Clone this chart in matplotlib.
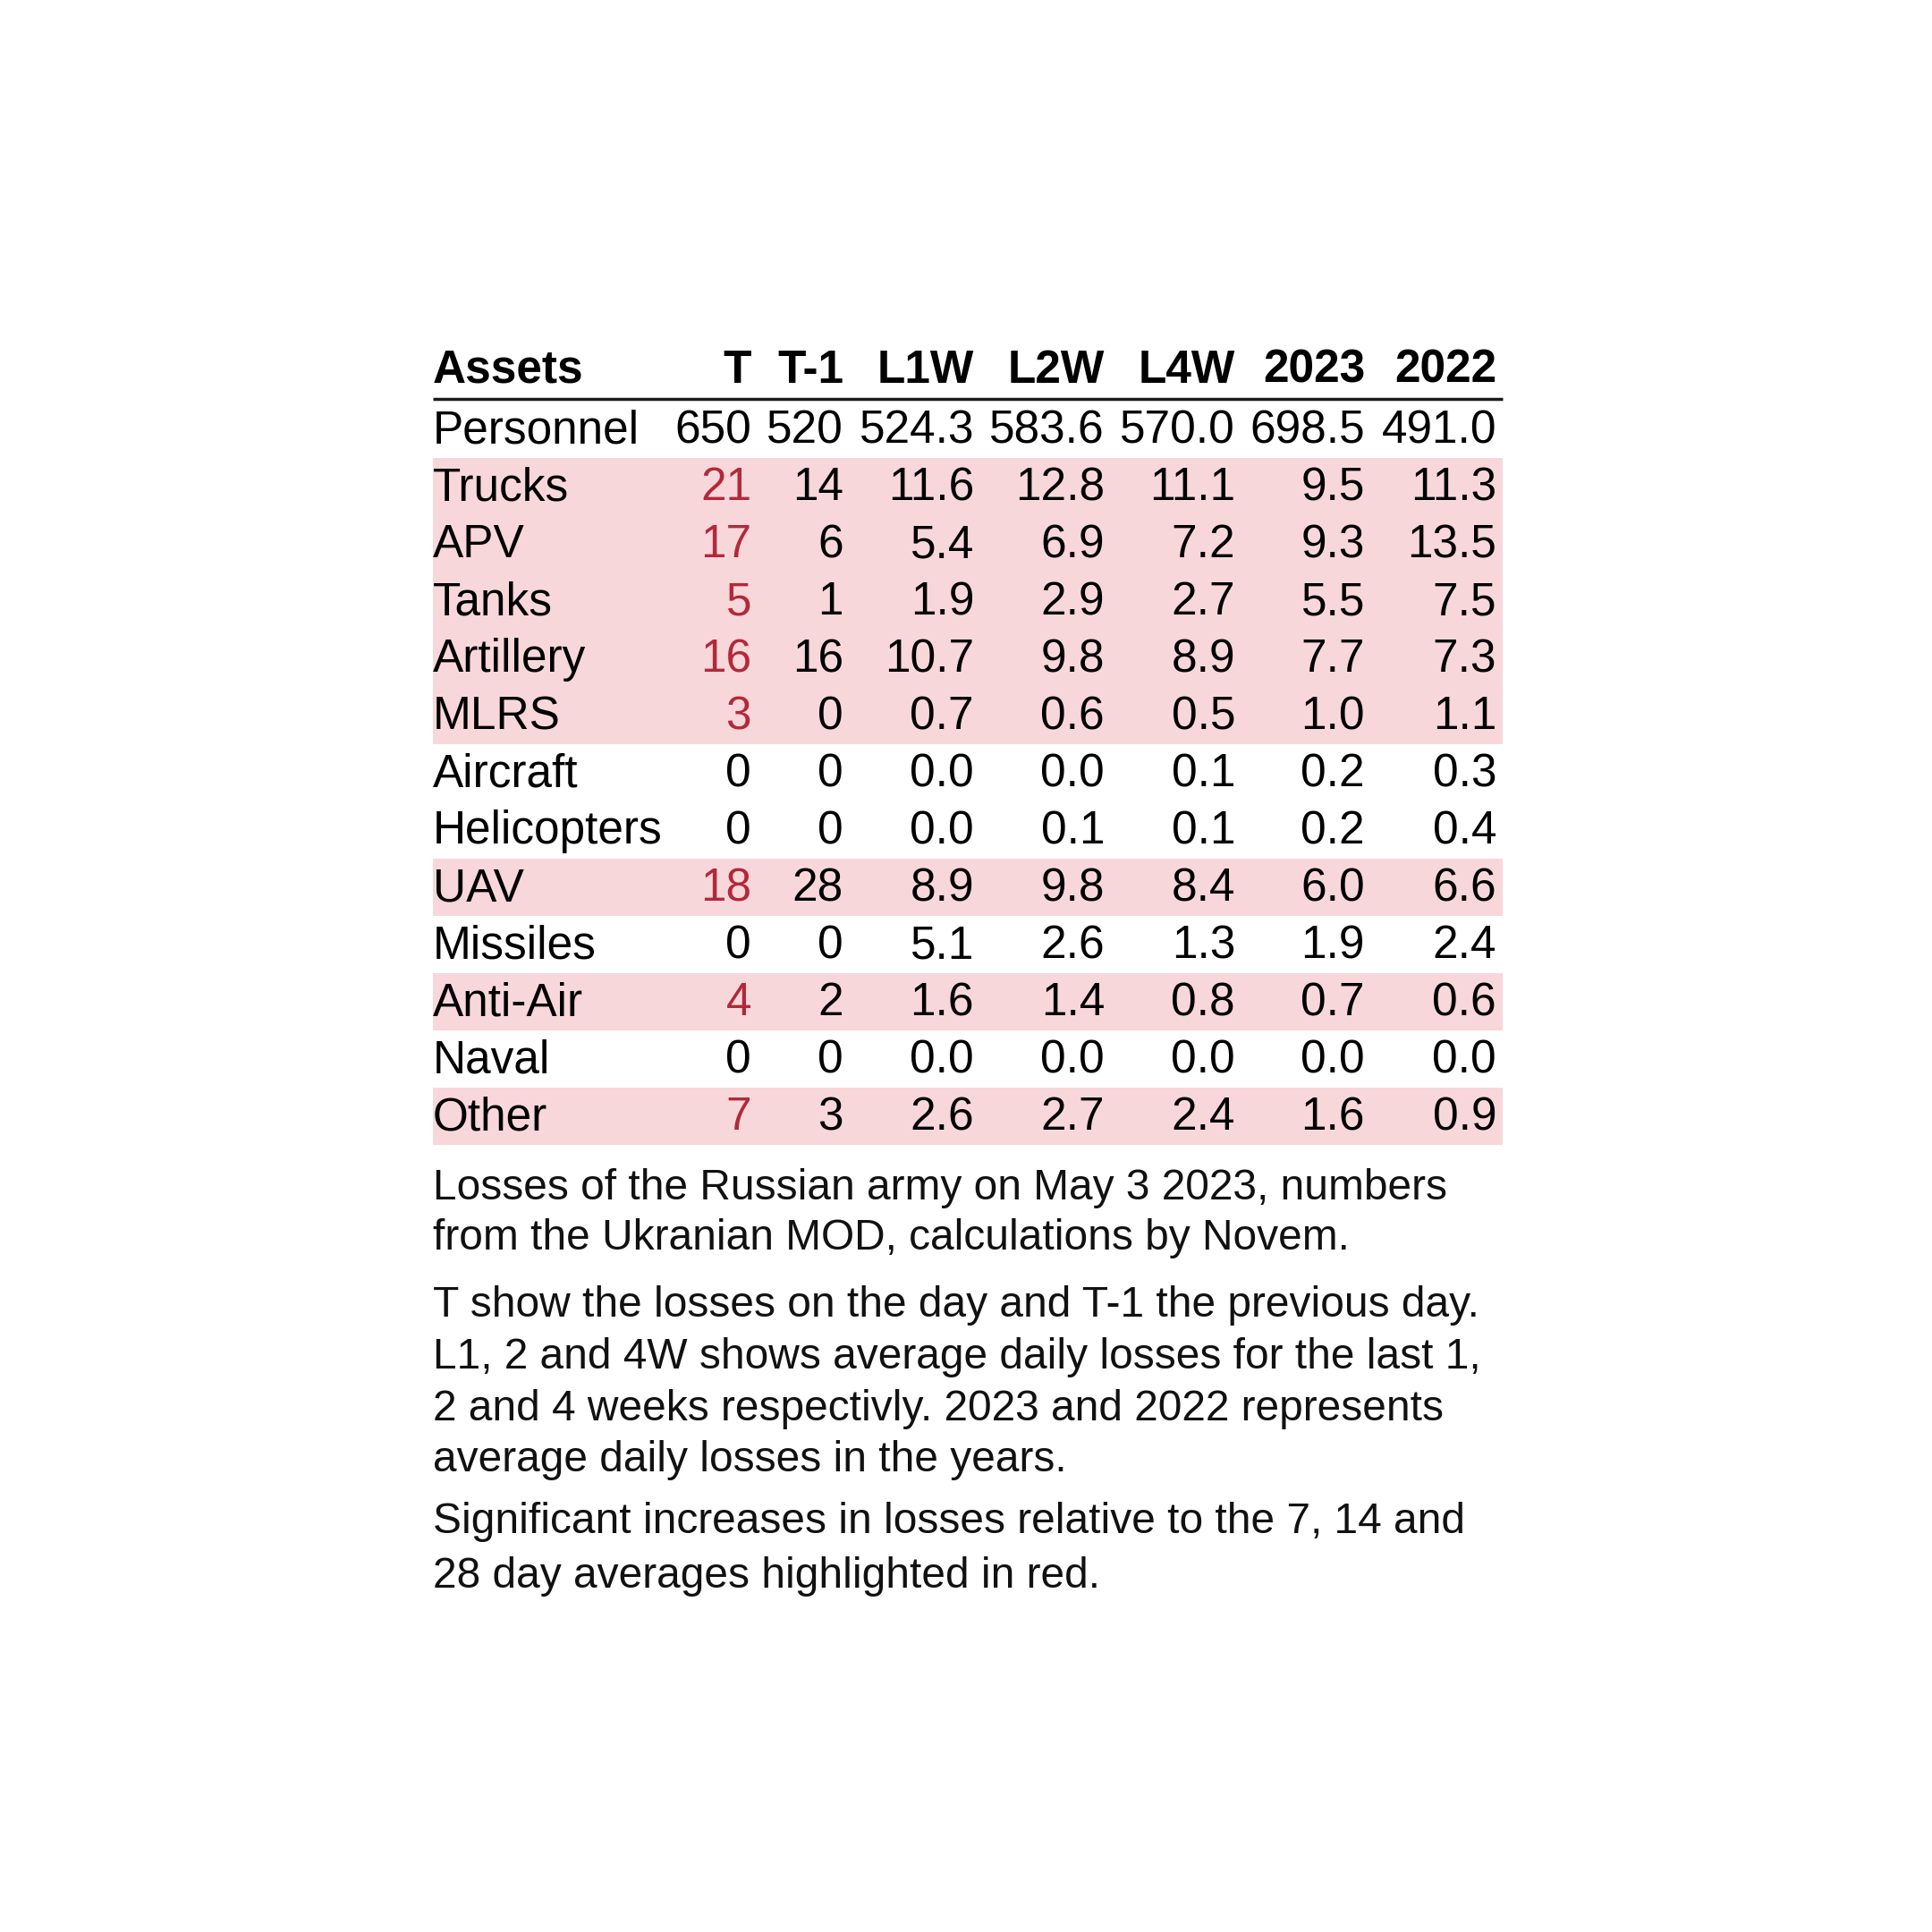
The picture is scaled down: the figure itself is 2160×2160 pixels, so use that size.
import matplotlib
matplotlib.use("Agg")
import matplotlib.pyplot as plt

plt.rcParams['font.family'] = ['Liberation Sans', 'DejaVu Sans']

# ---- data ----
columns = ["T", "T-1", "L1W", "L2W", "L4W", "2023", "2022"]
assets = ["Personnel", "Trucks", "APV", "Tanks", "Artillery", "MLRS", "Aircraft",
          "Helicopters", "UAV", "Missiles", "Anti-Air", "Naval", "Other"]
t_today = [650, 21, 17, 5, 16, 3, 0, 0, 18, 0, 4, 0, 7]
t_prev = [520, 14, 6, 1, 16, 0, 0, 0, 28, 0, 2, 0, 3]
l1w = [524.3, 11.6, 5.4, 1.9, 10.7, 0.7, 0.0, 0.0, 8.9, 5.1, 1.6, 0.0, 2.6]
l2w = [583.6, 12.8, 6.9, 2.9, 9.8, 0.6, 0.0, 0.1, 9.8, 2.6, 1.4, 0.0, 2.7]
l4w = [570.0, 11.1, 7.2, 2.7, 8.9, 0.5, 0.1, 0.1, 8.4, 1.3, 0.8, 0.0, 2.4]
y2023 = [698.5, 9.5, 9.3, 5.5, 7.7, 1.0, 0.2, 0.2, 6.0, 1.9, 0.7, 0.0, 1.6]
y2022 = [491.0, 11.3, 13.5, 7.5, 7.3, 1.1, 0.3, 0.4, 6.6, 2.4, 0.6, 0.0, 0.9]
highlighted = [False, True, True, True, True, True, False, False, True, False, True, False, True]

caption_paragraphs = [
    ["Losses of the Russian army on May 3 2023, numbers",
     "from the Ukranian MOD, calculations by Novem."],
    ["T show the losses on the day and T-1 the previous day.",
     "L1, 2 and 4W shows average daily losses for the last 1,",
     "2 and 4 weeks respectivly. 2023 and 2022 represents",
     "average daily losses in the years."],
    ["Significant increases in losses relative to the 7, 14 and",
     "28 day averages highlighted in red."],
]

# ---- styling / layout ----
PINK = "#f8d7da"
RED = "#b3283a"
TXT = "#000000"
FS = 37
CAP_FS = 34.5

W = H = 2160
fig = plt.figure(figsize=(21.6, 21.6), dpi=100)
ax = fig.add_axes([0, 0, 1, 1])
ax.set_xlim(0, W)
ax.set_ylim(H, 0)
ax.axis("off")

left, right = 484, 1680
col_right = [840, 943, 1089, 1235, 1381, 1526, 1673]
header_base = 428
rule_y = 446
row_top0 = 448
row_h = 64
base_off = 47

# header
ax.text(left, header_base, "Assets", ha="left", va="baseline", fontsize=FS,
        fontweight="bold", color=TXT)
for c, x in zip(columns, col_right):
    ax.text(x, header_base, c, ha="right", va="baseline", fontsize=FS,
            fontweight="bold", color=TXT)
ax.plot([left, right], [rule_y, rule_y], color="#1a1a1a", lw=2.5,
        solid_capstyle="butt")

# rows
series = [t_today, t_prev, l1w, l2w, l4w, y2023, y2022]
for i, name in enumerate(assets):
    top = row_top0 + i * row_h
    if highlighted[i]:
        ax.barh(top + row_h / 2, right - left, left=left, height=row_h,
                color=PINK, linewidth=0, zorder=0)
    base = top + base_off
    ax.text(left, base, name, ha="left", va="baseline", fontsize=FS, color=TXT)
    for j, (vals, x) in enumerate(zip(series, col_right)):
        v = vals[i]
        s = f"{int(v)}" if j < 2 else f"{v:.1f}"
        col = RED if (j == 0 and highlighted[i]) else TXT
        ax.text(x, base, s, ha="right", va="baseline", fontsize=FS, color=col)

# caption
cap_bases = [[1341, 1397], [1472, 1530, 1588, 1645], [1714, 1775]]
for para, bases in zip(caption_paragraphs, cap_bases):
    for line, b in zip(para, bases):
        ax.text(left, b, line, ha="left", va="baseline", fontsize=CAP_FS, color="#111111")

fig.savefig("out.png", dpi=100, facecolor="white")
